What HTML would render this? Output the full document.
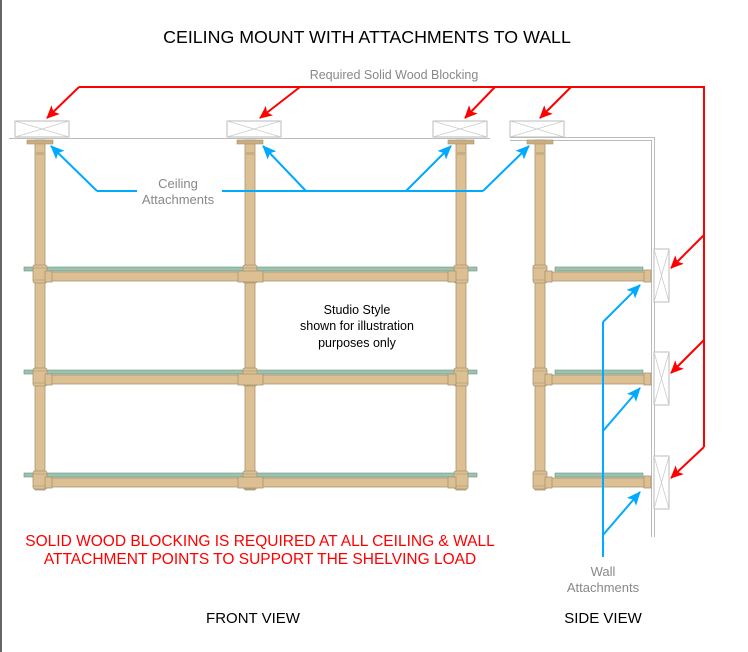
<!DOCTYPE html>
<html><head><meta charset="utf-8"><style>
body{margin:0;background:#fff;}
svg{display:block}
text{font-family:"Liberation Sans",Arial,sans-serif}
</style></head><body>
<svg width="748" height="652" viewBox="0 0 748 652" xmlns="http://www.w3.org/2000/svg">
<defs>
<marker id="ar" markerWidth="13" markerHeight="12" refX="12" refY="6" orient="auto" markerUnits="userSpaceOnUse"><path d="M0,0 L13,6 L0,12 L3,6 Z" fill="#f00"/></marker>
<marker id="ab" markerWidth="14" markerHeight="12" refX="13" refY="6" orient="auto" markerUnits="userSpaceOnUse"><path d="M0,0 L14,6 L0,12 L3,6 Z" fill="#0af"/></marker>
<g id="blk"><rect x="0" y="0" width="54" height="16" fill="#fff" stroke="#bbb"/><path d="M0,0 L54,16 M0,16 L54,0" stroke="#ccc" stroke-width="0.8"/></g>
<g id="vblk"><rect x="0" y="0" width="15" height="53" fill="#fff" stroke="#bbb"/><path d="M0,0 L15,53 M15,0 L0,53" stroke="#ccc" stroke-width="0.8"/></g>
<g id="post"><rect x="-5" y="0" width="10" height="350" fill="#dcc093" stroke="#a89470" stroke-width="0.8"/><rect x="-13" y="0" width="26" height="4" fill="#c9ae80" stroke="#a89470" stroke-width="0.6"/><rect x="-5" y="12" width="10" height="3" fill="#c9ae80"/></g>
<g id="tee"><rect x="-7" y="-1" width="14" height="18" rx="2" fill="#dcc093" stroke="#a89470" stroke-width="0.8"/><line x1="-7" y1="2" x2="7" y2="2" stroke="#a89470" stroke-width="0.6"/><line x1="-7" y1="14" x2="7" y2="14" stroke="#a89470" stroke-width="0.6"/></g>
</defs>
<line x1="1" y1="0" x2="1" y2="652" stroke="#666" stroke-width="2"/>
<text x="367" y="43" font-size="17.8" text-anchor="middle" fill="#000">CEILING MOUNT WITH ATTACHMENTS TO WALL</text>
<text x="394" y="79" font-size="12.5" text-anchor="middle" fill="#888">Required Solid Wood Blocking</text>
<line x1="9" y1="138.5" x2="490" y2="138.5" stroke="#bbb"/>
<path d="M510,137.5 L654.5,137.5 L654.5,537 M510,140.5 L651.5,140.5 L651.5,537" fill="none" stroke="#bbb"/>
<use href="#blk" x="15" y="121"/><use href="#blk" x="227" y="121"/><use href="#blk" x="433" y="121"/><use href="#blk" x="510" y="121"/>
<use href="#vblk" x="654" y="249"/><use href="#vblk" x="654" y="352"/><use href="#vblk" x="654" y="456"/>
<use href="#post" x="40" y="140"/><use href="#post" x="250" y="140"/><use href="#post" x="461" y="140"/><use href="#post" x="540" y="140"/>
<g id="sh">
<rect x="24" y="267" width="453" height="4" fill="#9bc4b0" stroke="#6f8f80" stroke-width="0.6"/>
<rect x="45" y="272" width="420" height="9" fill="#dcc093" stroke="#a89470" stroke-width="0.8"/>
<use href="#tee" x="40" y="266"/><use href="#tee" x="250" y="266"/><use href="#tee" x="461" y="266"/>
<rect x="238" y="271" width="25" height="11" fill="#dcc093" stroke="#a89470" stroke-width="0.8"/>
<rect x="45" y="271" width="7" height="11" fill="#dcc093" stroke="#a89470" stroke-width="0.8"/>
<rect x="448" y="271" width="8" height="11" fill="#dcc093" stroke="#a89470" stroke-width="0.8"/>
<rect x="555" y="267" width="88" height="4" fill="#9bc4b0" stroke="#6f8f80" stroke-width="0.6"/>
<rect x="545" y="272" width="100" height="9" fill="#dcc093" stroke="#a89470" stroke-width="0.8"/>
<use href="#tee" x="540" y="266"/>
<rect x="545" y="271" width="7" height="11" fill="#dcc093" stroke="#a89470" stroke-width="0.8"/>
<rect x="644" y="270" width="7" height="12" fill="#dcc093" stroke="#a89470" stroke-width="0.8"/>
</g>
<use href="#sh" x="0" y="103"/><use href="#sh" x="0" y="206"/>
<g stroke="#f00" stroke-width="2" fill="none">
<path d="M79,87 L704,87 L704,447"/>
<line x1="79" y1="87" x2="47" y2="118" marker-end="url(#ar)"/>
<line x1="300" y1="87" x2="260" y2="118" marker-end="url(#ar)"/>
<line x1="495" y1="87" x2="465" y2="118" marker-end="url(#ar)"/>
<line x1="571" y1="87" x2="540" y2="118" marker-end="url(#ar)"/>
<line x1="704" y1="235" x2="671" y2="268" marker-end="url(#ar)"/>
<line x1="704" y1="340" x2="671" y2="373" marker-end="url(#ar)"/>
<line x1="704" y1="447" x2="671" y2="478" marker-end="url(#ar)"/>
</g>
<g stroke="#0af" stroke-width="2" fill="none">
<path d="M97,191 L137,191 M222,191 L483,191"/>
<line x1="97" y1="191" x2="51" y2="146" marker-end="url(#ab)"/>
<line x1="306" y1="191" x2="263" y2="146" marker-end="url(#ab)"/>
<line x1="406" y1="191" x2="451" y2="146" marker-end="url(#ab)"/>
<line x1="483" y1="191" x2="529" y2="146" marker-end="url(#ab)"/>
<line x1="603" y1="322" x2="603" y2="557"/>
<line x1="603" y1="322" x2="640" y2="285" marker-end="url(#ab)"/>
<line x1="603" y1="431" x2="640" y2="388" marker-end="url(#ab)"/>
<line x1="603" y1="535" x2="640" y2="492" marker-end="url(#ab)"/>
</g>
<text x="178" y="188" font-size="13" text-anchor="middle" fill="#888">Ceiling</text>
<text x="178" y="204" font-size="13" text-anchor="middle" fill="#888">Attachments</text>
<text x="603" y="576" font-size="13" text-anchor="middle" fill="#888">Wall</text>
<text x="603" y="592" font-size="13" text-anchor="middle" fill="#888">Attachments</text>
<text x="357" y="314" font-size="12.5" text-anchor="middle" fill="#000">Studio Style</text>
<text x="357" y="330" font-size="12.5" text-anchor="middle" fill="#000">shown for illustration</text>
<text x="357" y="347" font-size="12.5" text-anchor="middle" fill="#000">purposes only</text>
<text x="260" y="546" font-size="15.5" text-anchor="middle" fill="#f00">SOLID WOOD BLOCKING IS REQUIRED AT ALL CEILING &amp; WALL</text>
<text x="260" y="564" font-size="15.5" text-anchor="middle" fill="#f00">ATTACHMENT POINTS TO SUPPORT THE SHELVING LOAD</text>
<text x="253" y="623" font-size="15" text-anchor="middle" fill="#000">FRONT VIEW</text>
<text x="603" y="623" font-size="15" text-anchor="middle" fill="#000">SIDE VIEW</text>
</svg>
</body></html>
